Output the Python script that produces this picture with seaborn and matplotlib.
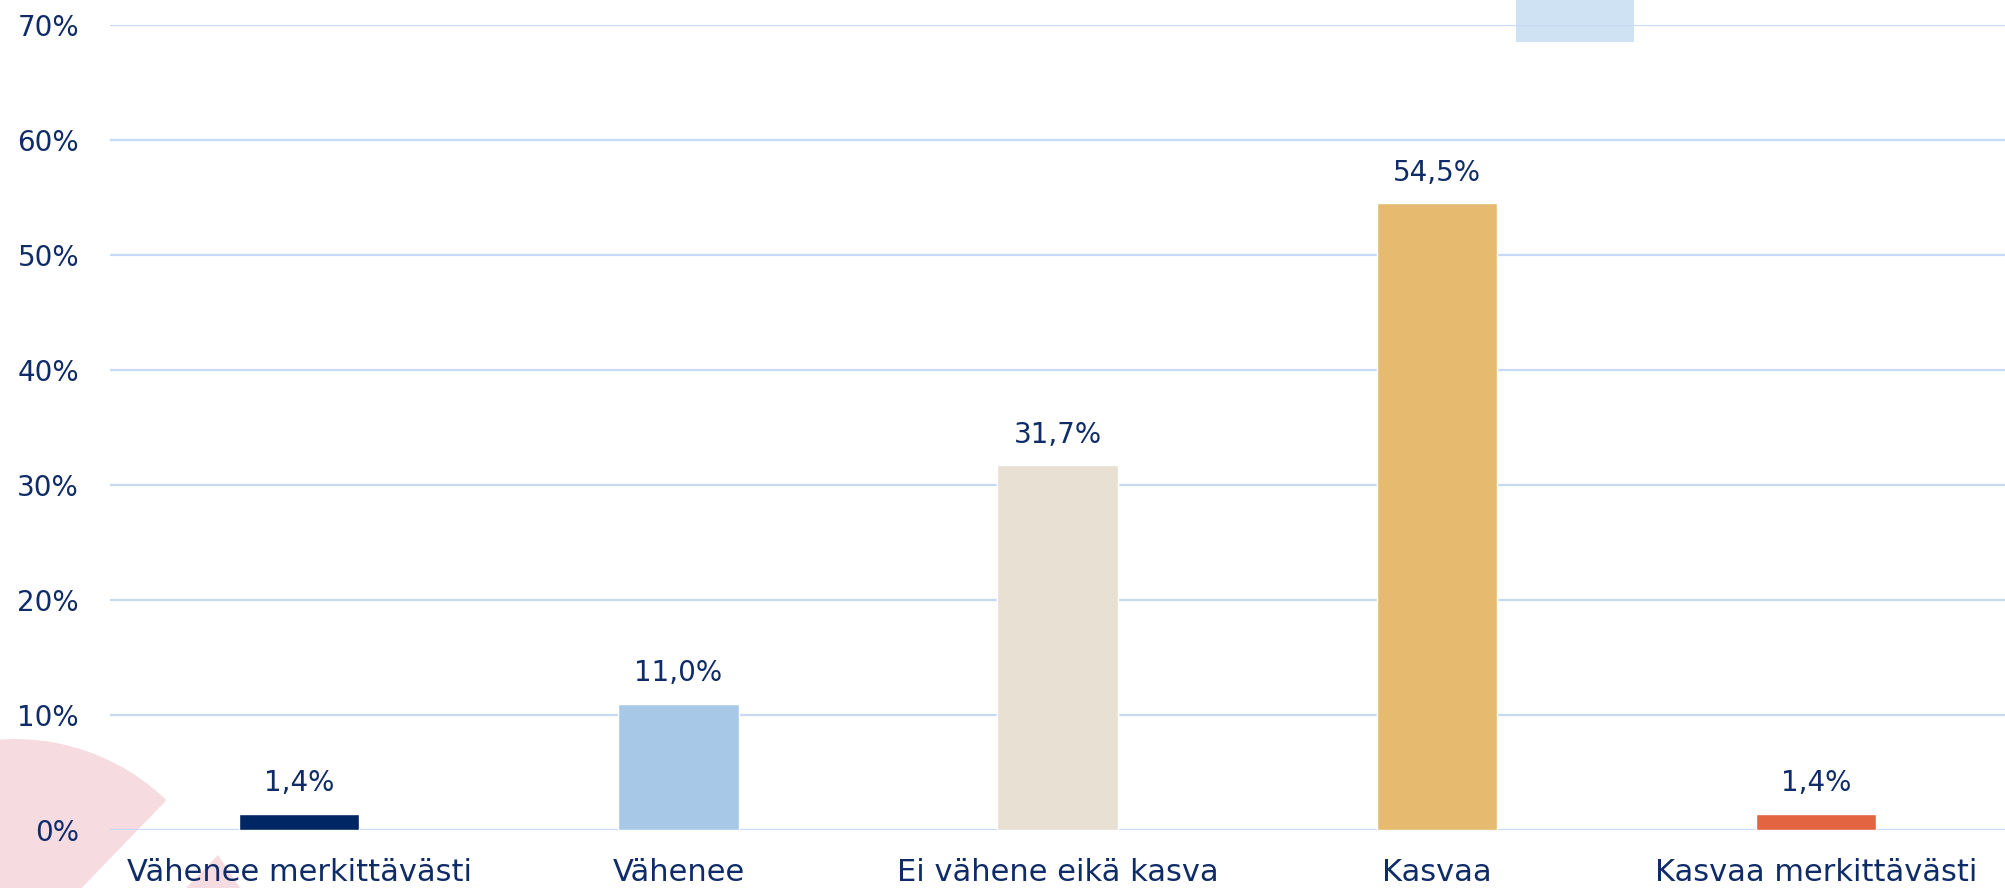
import matplotlib
matplotlib.use("Agg")
import matplotlib.pyplot as plt
import matplotlib.patches as mpatches
import pandas as pd
import seaborn as sns

categories = ["Vähenee merkittävästi", "Vähenee", "Ei vähene eikä kasva", "Kasvaa", "Kasvaa merkittävästi"]
values = [1.4, 11.0, 31.7, 54.5, 1.4]
bar_colors = ["#002663", "#a7c9e7", "#e7e0d3", "#e7bb6f", "#e26441"]
y_ticks = [0, 10, 20, 30, 40, 50, 60, 70]

text_col = "#0f2c68"
grid_col = "#c6daf6"

sns.set_theme(style="white")
plt.rcParams["font.family"] = ["DejaVu Sans"]

W, H = 2005, 888
fig = plt.figure(figsize=(W / 100, H / 100), dpi=100)
fig.patch.set_facecolor("white")

# decorative shapes behind the chart, in pixels (transform=None)
wedge = mpatches.Wedge((15, H - 957), 218, 46, 180, transform=None,
                       facecolor="#f6dce1", edgecolor="none", zorder=-2)
fig.patches.append(wedge)
tri = mpatches.Polygon([(218, H - 855), (150, H - 925), (265, H - 925)], closed=True,
                       transform=None, facecolor="#f6dce1", edgecolor="none", zorder=-2)
fig.patches.append(tri)
rect = mpatches.Rectangle((1516, H - 42), 118, 60, transform=None,
                          facecolor="#cfe2f3", edgecolor="none", zorder=-2)
fig.patches.append(rect)

ax = fig.add_axes([109.6 / W, (H - 830) / H, (2005.6 - 109.6) / W, 805 / H])
ax.set_facecolor("none")

df = pd.DataFrame({"cat": categories, "val": values})
sns.barplot(data=df, x="cat", y="val", hue="cat", palette=bar_colors, legend=False,
            width=0.317, saturation=1, ax=ax, zorder=3)

labels = [f"{v:.1f}".replace(".", ",") + "%" for v in values]
for cont in ax.containers:
    for bar in cont:
        idx = int(round(bar.get_x() + bar.get_width() / 2))
        ax.annotate(labels[idx], (bar.get_x() + bar.get_width() / 2, bar.get_height()),
                    xytext=(0, 12), textcoords="offset points", ha="center", va="bottom",
                    fontsize=20, color=text_col)

ax.set_ylim(0, 70)
ax.set_xlim(-0.5, 4.5)
ax.set_yticks(y_ticks)
ax.set_yticklabels([f"{t}%" for t in y_ticks])
ax.yaxis.grid(True, color=grid_col, linewidth=1.6)
ax.set_axisbelow(True)
for s in ax.spines.values():
    s.set_visible(False)
ax.tick_params(axis="y", length=0, pad=22, labelsize=20, labelcolor=text_col)
ax.tick_params(axis="x", length=0, pad=20, labelsize=22, labelcolor=text_col)
ax.set_xlabel("")
ax.set_ylabel("")

fig.savefig("out.png", dpi=100)
